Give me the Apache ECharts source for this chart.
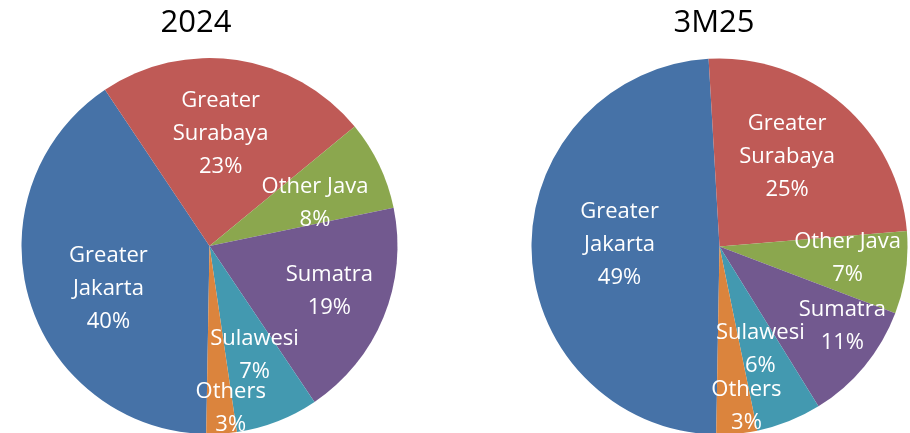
<!DOCTYPE html>
<html>
<head>
<meta charset="utf-8">
<script src="https://cdn.jsdelivr.net/npm/echarts@6/dist/echarts.min.js"></script>
<style>
  html, body { margin: 0; padding: 0; background: #fff; }
  #chart { width: 910px; height: 433px; }
</style>
</head>
<body>
<div id="chart"></div>
<script>
var regions = ['Greater Jakarta', 'Greater Surabaya', 'Other Java', 'Sumatra', 'Sulawesi', 'Others'];
var share2024 = [40.3, 23.4, 7.7, 18.8, 7.1, 2.6];
var label2024 = [40, 23, 8, 19, 7, 3];
var share3M25 = [48.8, 24.6, 7.1, 10.4, 5.6, 3.5];
var label3M25 = [49, 25, 7, 11, 6, 3];
var titles = ['2024', '3M25'];

var colors = ['#4672A7', '#BF5A56', '#8BA74E', '#72598F', '#4399B0', '#DB843D'];
// excel doesn't keep the labels on the mid radius, push them a bit
var nudge = [
  [[-8, 15], [-3, -16], [18, -1], [30, 9], [10, 19], [15, 65]],
  [[-3, -4], [4, -17], [32, -2], [48, 18], [5, 13], [18, 63]]
];

function pieSeries(idx, center, values, pct) {
  return {
    type: 'pie',
    center: center,
    radius: [0, 188],
    startAngle: -91,
    clockwise: true,
    silent: true,
    data: regions.map(function (name, i) {
      return {name: name, value: values[i]};
    }),
    itemStyle: {borderWidth: 0},
    label: {
      show: true,
      position: 'inside',
      color: '#fff',
      fontFamily: 'Open Sans',
      fontSize: 22,
      lineHeight: 33,
      formatter: function (p) {
        return p.name.replace('Greater ', 'Greater\n') + '\n' + pct[p.dataIndex] + '%';
      }
    },
    labelLine: {show: false},
    labelLayout: function (p) {
      var d = nudge[idx][p.dataIndex];
      return {dx: d[0], dy: d[1]};
    }
  };
}

var myChart = echarts.init(document.getElementById('chart'));
var titleStyle = {fontFamily: 'Open Sans', fontSize: 31, fontWeight: 'normal', color: '#000'};
var option = {
  animation: false,
  color: colors,
  title: [
    {text: titles[0], left: 196, top: 8, textAlign: 'center', padding: 0, textStyle: titleStyle},
    {text: titles[1], left: 714, top: 8, textAlign: 'center', padding: 0, textStyle: titleStyle}
  ],
  series: [
    pieSeries(0, [209.5, 246], share2024, label2024),
    pieSeries(1, [719.5, 246.5], share3M25, label3M25)
  ]
};
myChart.setOption(option);
</script>
</body>
</html>
